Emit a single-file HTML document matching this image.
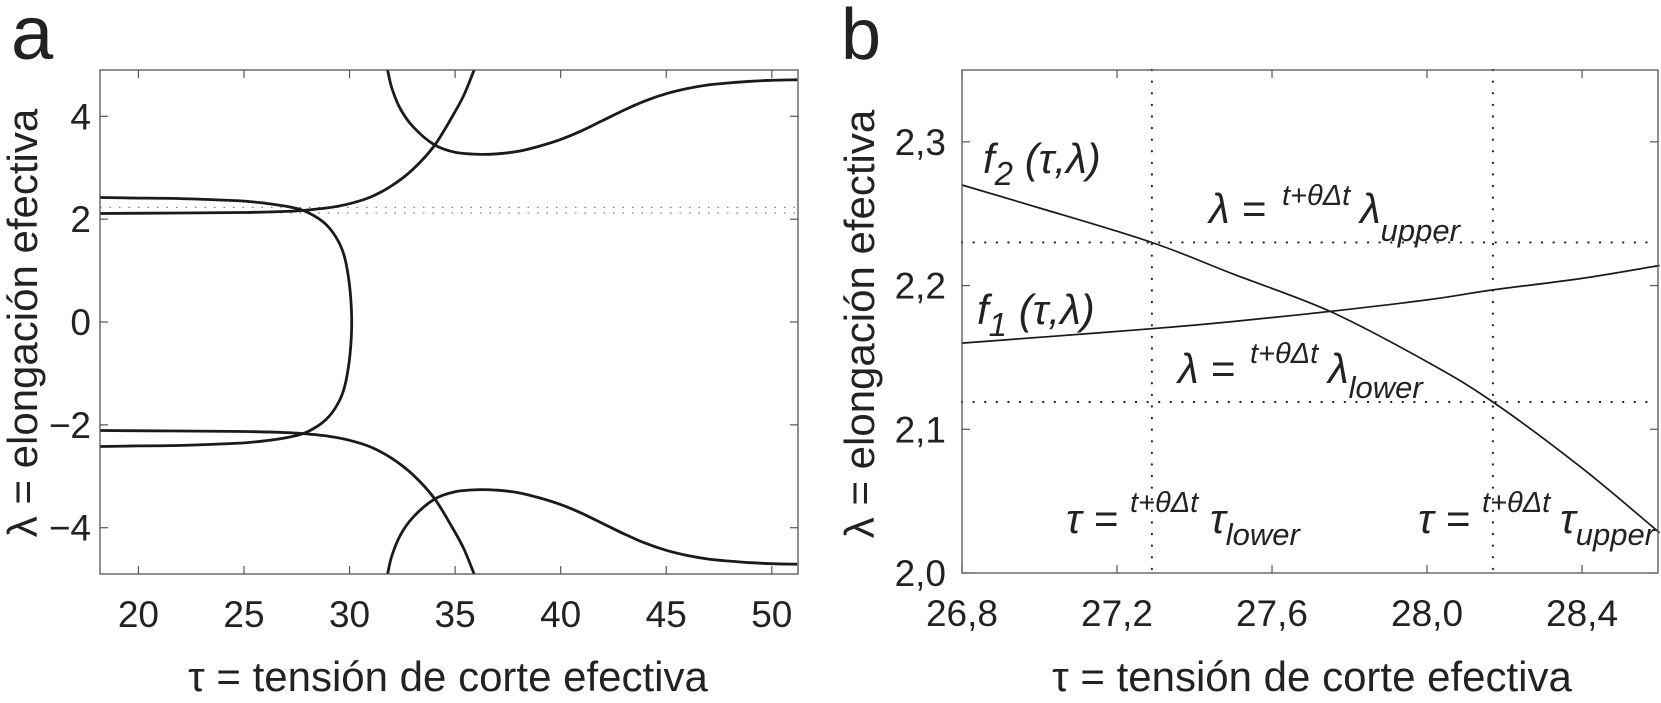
<!DOCTYPE html>
<html><head><meta charset="utf-8">
<style>
html,body{margin:0;padding:0;background:#fff;}
svg{display:block;font-family:"Liberation Sans",sans-serif;}
</style></head>
<body>
<svg id="fig" width="1661" height="703" viewBox="0 0 1661 703" xmlns="http://www.w3.org/2000/svg">
<g id="pa"></g>
<g id="pb"></g>
</svg>
<script>
// ---------- Panel a data ----------
const aXTicks = [20, 25, 30, 35, 40, 45, 50];
const aYTicks = [-4, -2, 0, 2, 4];
const aYTickLabels = ['\u22124', '\u22122', '0', '2', '4'];
const aDotLevels = [2.12, 2.23];
const aCurveAx = [18.2,20,22,24,25,26,27,27.8,28.5,29,29.4,29.7,29.9,30.05,30.1,30.05,29.9,29.7,29.4,29,28.5,27.8,27,26,25,24,22,20,18.2];
const aCurveAy = [2.42,2.41,2.40,2.37,2.35,2.31,2.25,2.17,2.02,1.85,1.62,1.35,1.0,0.5,0,-0.5,-1.0,-1.35,-1.62,-1.85,-2.02,-2.17,-2.25,-2.31,-2.35,-2.37,-2.40,-2.41,-2.42];
const aCurveBx = [18.2,22,25,27,27.8,29,30,31,32,33,34,34.8,35.4,35.9];
const aCurveBy = [2.11,2.12,2.13,2.15,2.17,2.22,2.3,2.43,2.65,2.97,3.42,3.95,4.4,4.9];
const aCurveCx = [31.8,32.0,32.4,33,34,35,36.1,37,38,39,40,41,42,43,44,45,46,47,48,49,50,51.2];
const aCurveCy = [4.9,4.55,4.15,3.8,3.45,3.3,3.26,3.27,3.32,3.42,3.55,3.72,3.92,4.12,4.3,4.44,4.54,4.61,4.65,4.68,4.70,4.71];

// ---------- Panel b data ----------
const bXTicks = [26.8, 27.2, 27.6, 28.0, 28.4];
const bXTickLabels = ['26,8', '27,2', '27,6', '28,0', '28,4'];
const bYTicks = [2.0, 2.1, 2.2, 2.3];
const bYTickLabels = ['2,0', '2,1', '2,2', '2,3'];
const bF2x = [26.8, 27.0, 27.29, 27.5, 27.75, 28.0, 28.17, 28.4, 28.6];
const bF2y = [2.270, 2.254, 2.230, 2.208, 2.182, 2.147, 2.119, 2.073, 2.028];
const bF1x = [26.8, 27.0, 27.29, 27.5, 27.75, 28.0, 28.17, 28.4, 28.6];
const bF1y = [2.160, 2.164, 2.170, 2.175, 2.182, 2.190, 2.197, 2.205, 2.214];
const bDotTau = [27.29, 28.17];
const bDotLam = [2.119, 2.230];

const NS = 'http://www.w3.org/2000/svg';
function mk(parent, tag, attrs, text) {
  const e = document.createElementNS(NS, tag);
  for (const k in attrs) e.setAttribute(k, attrs[k]);
  if (text !== undefined) e.textContent = text;
  parent.appendChild(e);
  return e;
}
function pathFrom(xs, ys, sx, sy) {
  const P = xs.map((x, i) => [sx(x), sy(ys[i])]);
  let d = 'M' + P[0][0].toFixed(1) + ',' + P[0][1].toFixed(1);
  for (let i = 0; i < P.length - 1; i++) {
    const p0 = P[Math.max(i - 1, 0)], p1 = P[i], p2 = P[i + 1], p3 = P[Math.min(i + 2, P.length - 1)];
    const c1 = [p1[0] + (p2[0] - p0[0]) / 6, p1[1] + (p2[1] - p0[1]) / 6];
    const c2 = [p2[0] - (p3[0] - p1[0]) / 6, p2[1] - (p3[1] - p1[1]) / 6];
    d += 'C' + c1[0].toFixed(1) + ',' + c1[1].toFixed(1) + ' ' + c2[0].toFixed(1) + ',' + c2[1].toFixed(1) + ' ' + p2[0].toFixed(1) + ',' + p2[1].toFixed(1);
  }
  return d;
}

// ===== Panel a =====
(function () {
  const g = document.getElementById('pa');
  const L = 100, R = 798, T = 70, B = 574;
  const x0 = 18.18, x1 = 51.24, y0 = -4.9, y1 = 4.9;
  const sx = v => L + (v - x0) / (x1 - x0) * (R - L);
  const sy = v => B - (v - y0) / (y1 - y0) * (B - T);
  const clip = mk(g, 'clipPath', {id: 'clipA'});
  mk(clip, 'rect', {x: L, y: T, width: R - L, height: B - T});

  aDotLevels.forEach(v => {
    const l = mk(g, 'line', {x1: L, x2: R, y1: sy(v), y2: sy(v), stroke: '#666', 'stroke-width': 1, 'stroke-dasharray': '1.5 8'});
    
    
  });

  const curves = [[aCurveAx, aCurveAy, 1], [aCurveBx, aCurveBy, 1], [aCurveBx, aCurveBy, -1], [aCurveCx, aCurveCy, 1], [aCurveCx, aCurveCy, -1]];
  curves.forEach(c => {
    const ys = c[1].map(v => v * c[2]);
    const p = mk(g, 'path', {d: pathFrom(c[0], ys, sx, sy), fill: 'none', stroke: '#1a1a1a', 'stroke-width': 2.8, 'stroke-linejoin': 'round', 'clip-path': 'url(#clipA)'});
    
    
  });

  const fr = mk(g, 'rect', {x: L, y: T, width: R - L, height: B - T, fill: 'none', stroke: '#555', 'stroke-width': 1.3});
  
  

  aXTicks.forEach(v => {
    mk(g, 'line', {x1: sx(v), x2: sx(v), y1: B, y2: B - 8, stroke: '#555', 'stroke-width': 1.2});
    mk(g, 'line', {x1: sx(v), x2: sx(v), y1: T, y2: T + 8, stroke: '#555', 'stroke-width': 1.2});
    const t = mk(g, 'text', {x: sx(v), y: 627, 'font-size': 37, 'text-anchor': 'middle', fill: '#222'}, String(v));
    
    
  });
  aYTicks.forEach((v, i) => {
    mk(g, 'line', {x1: L, x2: L + 8, y1: sy(v), y2: sy(v), stroke: '#555', 'stroke-width': 1.2});
    mk(g, 'line', {x1: R, x2: R - 8, y1: sy(v), y2: sy(v), stroke: '#555', 'stroke-width': 1.2});
    const t = mk(g, 'text', {x: 91, y: sy(v) + 13, 'font-size': 37, 'text-anchor': 'end', fill: '#222'}, aYTickLabels[i]);
    
    
  });
})();

// ===== Panel b =====
(function () {
  const g = document.getElementById('pb');
  const L = 962, R = 1658, T = 70, B = 573;
  const x0 = 26.8, x1 = 28.596, y0 = 2.0, y1 = 2.35;
  const sx = v => L + (v - x0) / (x1 - x0) * (R - L);
  const sy = v => B - (v - y0) / (y1 - y0) * (B - T);

  bDotTau.forEach(v => {
    const l = mk(g, 'line', {x1: sx(v), x2: sx(v), y1: T, y2: B, stroke: '#222', 'stroke-width': 2.2, 'stroke-dasharray': '0.1 11.5', 'stroke-linecap': 'round'});
    
    
  });
  bDotLam.forEach(v => {
    const l = mk(g, 'line', {x1: L, x2: R, y1: sy(v), y2: sy(v), stroke: '#222', 'stroke-width': 2.2, 'stroke-dasharray': '0.1 11.5', 'stroke-linecap': 'round'});
    
    
  });

  const p2 = mk(g, 'path', {d: pathFrom(bF2x, bF2y, sx, sy), fill: 'none', stroke: '#1a1a1a', 'stroke-width': 1.7});
  
  
  const p1 = mk(g, 'path', {d: pathFrom(bF1x, bF1y, sx, sy), fill: 'none', stroke: '#1a1a1a', 'stroke-width': 1.7});
  
  

  const fr = mk(g, 'rect', {x: L, y: T, width: R - L, height: B - T, fill: 'none', stroke: '#555', 'stroke-width': 1.3});
  
  

  bXTicks.forEach((v, i) => {
    mk(g, 'line', {x1: sx(v), x2: sx(v), y1: B, y2: B - 8, stroke: '#555', 'stroke-width': 1.2});
    mk(g, 'line', {x1: sx(v), x2: sx(v), y1: T, y2: T + 8, stroke: '#555', 'stroke-width': 1.2});
    const t = mk(g, 'text', {x: sx(v), y: 626, 'font-size': 37, 'text-anchor': 'middle', fill: '#222'}, bXTickLabels[i]);
    
    
  });
  bYTicks.forEach((v, i) => {
    mk(g, 'line', {x1: L, x2: L + 8, y1: sy(v), y2: sy(v), stroke: '#555', 'stroke-width': 1.2});
    mk(g, 'line', {x1: R, x2: R - 8, y1: sy(v), y2: sy(v), stroke: '#555', 'stroke-width': 1.2});
    const t = mk(g, 'text', {x: 946, y: sy(v) + 13, 'font-size': 37, 'text-anchor': 'end', fill: '#222'}, bYTickLabels[i]);
    
    
  });
})();
</script>
<svg width="1661" height="703" viewBox="0 0 1661 703" style="position:absolute;left:0;top:0;font-family:'Liberation Sans',sans-serif;" xmlns="http://www.w3.org/2000/svg">
  <text x="11" y="59" font-size="76" fill="#222">a</text>
  <text x="841" y="59" font-size="72" fill="#222">b</text>
  <text x="448" y="691" font-size="42" text-anchor="middle" fill="#222">τ = tensión de corte efectiva</text>
  <text x="1312" y="691" font-size="42" text-anchor="middle" fill="#222">τ = tensión de corte efectiva</text>
  <text transform="translate(37,323) rotate(-90)" font-size="42" text-anchor="middle" fill="#222">λ = elongación efectiva</text>
  <text transform="translate(874,324) rotate(-90)" font-size="42" text-anchor="middle" fill="#222">λ = elongación efectiva</text>
  <g font-style="italic" fill="#222">
    <text x="983" y="173" font-size="42">f<tspan font-size="33" dy="12">2</tspan><tspan dy="-12"> (τ,λ)</tspan></text>
    <text x="977" y="324" font-size="42">f<tspan font-size="33" dy="12">1</tspan><tspan dy="-12"> (τ,λ)</tspan></text>
    <text font-size="42"><tspan x="1209" y="223">λ =</tspan><tspan x="1282" y="205" font-size="29">t+θΔt</tspan><tspan x="1360" y="223">λ</tspan><tspan font-size="31" y="241">upper</tspan></text>
    <text font-size="42"><tspan x="1178" y="383">λ =</tspan><tspan x="1250" y="363" font-size="29">t+θΔt</tspan><tspan x="1328" y="383">λ</tspan><tspan font-size="31" y="398">lower</tspan></text>
    <text font-size="42"><tspan x="1066" y="533">τ =</tspan><tspan x="1130" y="512" font-size="29">t+θΔt</tspan><tspan x="1210" y="533">τ</tspan><tspan font-size="31" y="545">lower</tspan></text>
    <text font-size="42"><tspan x="1418" y="533">τ =</tspan><tspan x="1482" y="512" font-size="29">t+θΔt</tspan><tspan x="1560" y="533">τ</tspan><tspan font-size="31" y="545">upper</tspan></text>
  </g>
</svg>
</body></html>
